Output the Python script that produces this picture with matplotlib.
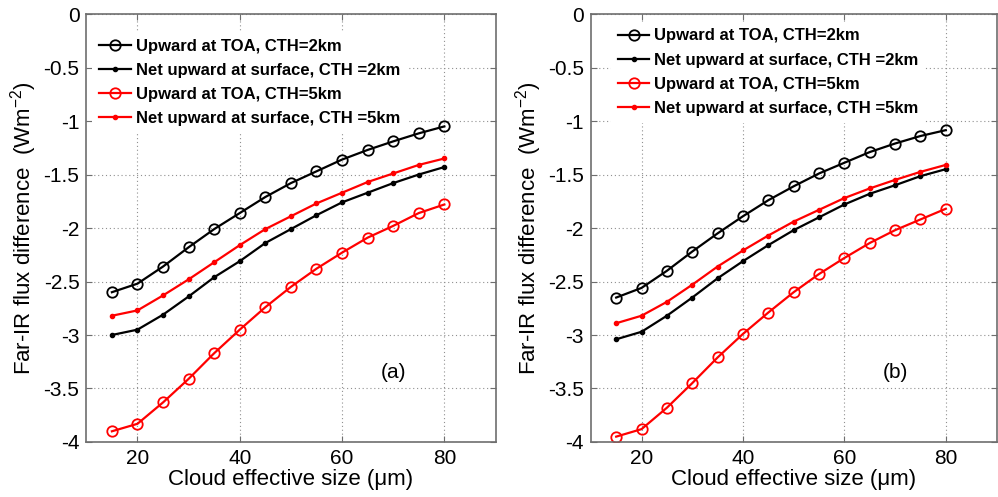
import matplotlib
matplotlib.use("Agg")
import matplotlib.pyplot as plt

plt.rcParams['font.family'] = ['Liberation Sans', 'DejaVu Sans']
plt.rcParams['mathtext.fontset'] = 'custom'
plt.rcParams['mathtext.rm'] = 'Liberation Sans'
plt.rcParams['axes.unicode_minus'] = False

size_um = [15, 20, 25, 30, 35, 40, 45, 50, 55, 60, 65, 70, 75, 80]

# Panel (a)
a_toa_2km = [-2.60, -2.52, -2.36, -2.18, -2.01, -1.86, -1.71, -1.58, -1.47, -1.36, -1.27, -1.19, -1.115, -1.05]
a_sfc_2km = [-3.00, -2.95, -2.81, -2.64, -2.46, -2.31, -2.14, -2.01, -1.88, -1.76, -1.67, -1.58, -1.50, -1.43]
a_toa_5km = [-3.90, -3.83, -3.63, -3.41, -3.17, -2.95, -2.74, -2.55, -2.38, -2.23, -2.09, -1.98, -1.86, -1.78]
a_sfc_5km = [-2.82, -2.77, -2.63, -2.48, -2.32, -2.16, -2.01, -1.89, -1.77, -1.67, -1.57, -1.49, -1.41, -1.35]

# Panel (b)
b_toa_2km = [-2.65, -2.56, -2.40, -2.22, -2.05, -1.89, -1.74, -1.61, -1.49, -1.39, -1.29, -1.21, -1.14, -1.085]
b_sfc_2km = [-3.04, -2.97, -2.82, -2.65, -2.47, -2.31, -2.16, -2.02, -1.90, -1.78, -1.68, -1.60, -1.515, -1.45]
b_toa_5km = [-3.95, -3.88, -3.68, -3.45, -3.21, -2.99, -2.79, -2.60, -2.43, -2.28, -2.14, -2.02, -1.92, -1.82]
b_sfc_5km = [-2.89, -2.82, -2.69, -2.53, -2.36, -2.21, -2.07, -1.94, -1.83, -1.72, -1.63, -1.55, -1.475, -1.41]

labels = ["Upward at TOA, CTH=2km",
          "Net upward at surface, CTH =2km",
          "Upward at TOA, CTH=5km",
          "Net upward at surface, CTH =5km"]
xticks = [20, 40, 60, 80]
yticks = [0, -0.5, -1, -1.5, -2, -2.5, -3, -3.5, -4]
ytick_labels = ["0", "-0.5", "-1", "-1.5", "-2", "-2.5", "-3", "-3.5", "-4"]
panel_tags = ["(a)", "(b)"]

fig = plt.figure(figsize=(9.98, 4.97), dpi=100)
ax_a = fig.add_axes([0.0865, 0.1107, 0.410, 0.861])
ax_b = fig.add_axes([0.592, 0.1107, 0.4065, 0.861])

frame_color = '#6e6e6e'

def draw(ax, toa2, sfc2, toa5, sfc5, tag, leg_anchor):
    ax.plot(size_um, toa2, color='black', lw=1.6, marker='o', ms=7.5, mfc='none', mew=1.3, label=labels[0])
    ax.plot(size_um, sfc2, color='black', lw=1.6, marker='.', ms=6, label=labels[1])
    ax.plot(size_um, toa5, color='red', lw=1.6, marker='o', ms=7.5, mfc='none', mew=1.3, label=labels[2])
    ax.plot(size_um, sfc5, color='red', lw=1.6, marker='.', ms=6, label=labels[3])
    ax.set_xlim(10, 90)
    ax.set_ylim(-4, 0)
    ax.set_xticks(xticks)
    ax.set_yticks(yticks)
    ax.set_yticklabels(ytick_labels)
    ax.grid(True, linestyle=(0, (1, 2.5)), color='#909090', lw=0.8)
    ax.tick_params(direction='in', top=True, right=True, length=4, color=frame_color,
                   labelsize=15, pad=5)
    for s in ax.spines.values():
        s.set_color(frame_color)
        s.set_linewidth(1.2)
    ax.set_xlabel("Cloud effective size (\u03bcm)", fontsize=16, labelpad=1)
    ax.set_ylabel("Far-IR flux difference  (Wm$^{-2}$)", fontsize=16, labelpad=3)
    ax.text(70, -3.35, tag, fontsize=15, ha='center', va='center')
    ax.legend(loc='upper left', bbox_to_anchor=leg_anchor, frameon=True,
              facecolor='white', edgecolor='none', framealpha=1, fancybox=False,
              prop={'weight': 'bold', 'size': 12}, handlelength=1.9,
              handletextpad=0.3, labelspacing=0.55, borderpad=0.4, borderaxespad=0)

draw(ax_a, a_toa_2km, a_sfc_2km, a_toa_5km, a_sfc_5km, panel_tags[0], (0.015, 0.958))
draw(ax_b, b_toa_2km, b_sfc_2km, b_toa_5km, b_sfc_5km, panel_tags[1], (0.05, 0.982))

fig.savefig("out.png", dpi=100)
